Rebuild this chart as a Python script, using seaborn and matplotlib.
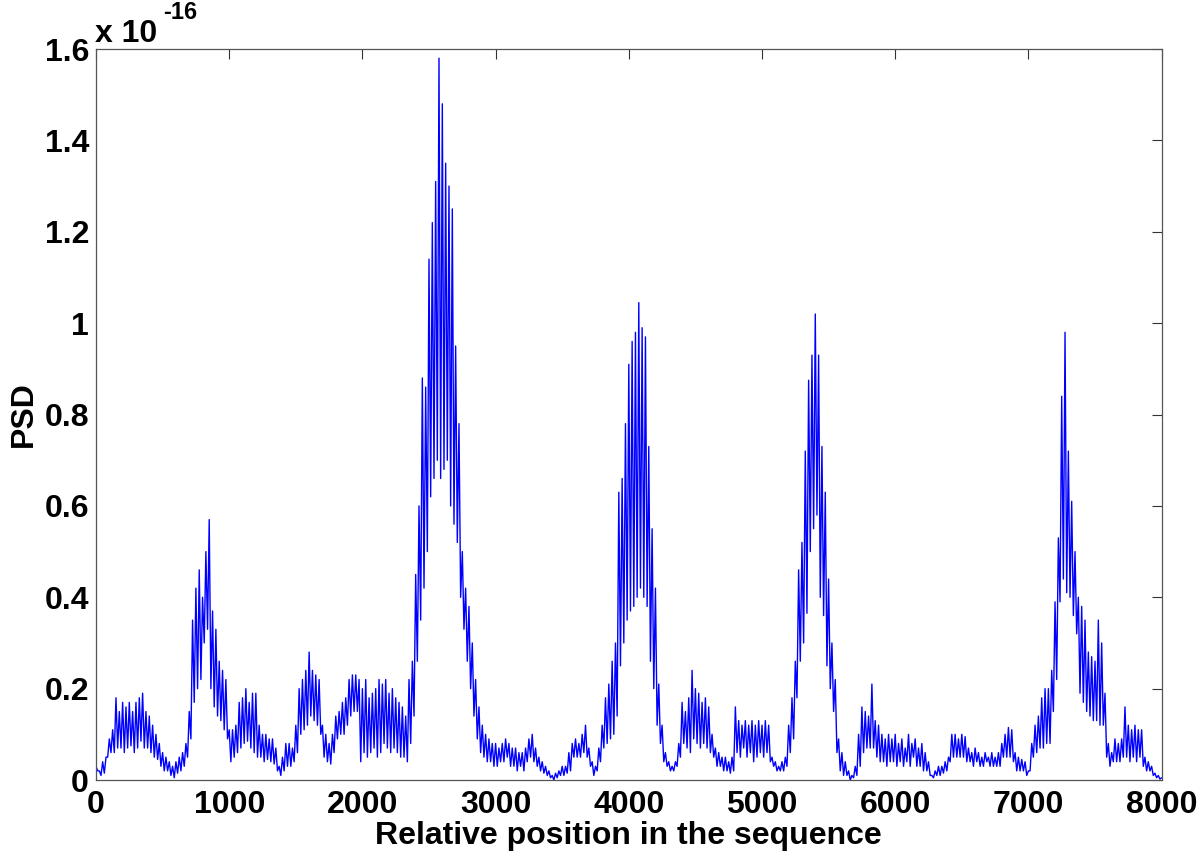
import numpy as np
import pandas as pd
import matplotlib
matplotlib.use("Agg")
import matplotlib.pyplot as plt
import seaborn as sns

# Upper (peak) samples of the PSD trace, every 25 positions from 0 to 8000 (units of 1e-16)
peak_pos = np.arange(0, 8001, 25)
peak_vals = [
    .03, .02, .04, .05, .09, .11, .18, .15,
    .17, .16, .17, .15, .17, .18, .19, .15,
    .14, .12, .10, .08, .06, .05, .04, .03,
    .04, .05, .06, .08, .15, .35, .42, .46,
    .40, .50, .57, .37, .33, .26, .24, .22,
    .11, .11, .12, .17, .18, .20, .17, .19,
    .19, .12, .10, .10, .09, .09, .07, .03,
    .05, .08, .08, .07, .12, .20, .22, .24,
    .28, .24, .23, .22, .12, .10, .08, .10,
    .14, .15, .17, .18, .22, .23, .23, .22,
    .20, .22, .18, .19, .20, .22, .21, .22,
    .19, .20, .18, .17, .16, .14, .22, .26,
    .45, .60, .88, .86, 1.14, 1.22, 1.31, 1.58,
    1.48, 1.35, 1.30, 1.25, .95, .78, .50, .42,
    .38, .30, .22, .16, .12, .10, .09, .08,
    .08, .07, .08, .09, .08, .07, .07, .06,
    .06, .07, .09, .10, .07, .05, .04, .03,
    .02, .01, .015, .02, .03, .03, .06, .08,
    .09, .08, .10, .12, .07, .04, .03, .07,
    .12, .18, .21, .26, .30, .63, .66, .78,
    .91, .96, .98, 1.045, .99, .97, .73, .55,
    .42, .21, .12, .06, .04, .03, .04, .08,
    .17, .15, .18, .24, .20, .19, .17, .18,
    .16, .10, .07, .06, .05, .05, .04, .05,
    .16, .13, .12, .13, .12, .13, .12, .13,
    .12, .13, .12, .05, .04, .03, .04, .05,
    .12, .18, .26, .46, .52, .72, .875, .93,
    1.02, .93, .73, .63, .44, .30, .22, .09,
    .06, .04, .02, .01, .03, .10, .16, .15,
    .14, .21, .13, .12, .10, .09, .10, .09,
    .10, .08, .09, .07, .10, .08, .09, .07,
    .08, .06, .04, .01, .02, .03, .03, .04,
    .05, .10, .10, .09, .10, .095, .07, .06,
    .07, .06, .05, .06, .05, .06, .05, .06,
    .08, .10, .115, .11, .06, .05, .045, .04,
    .02, .08, .12, .14, .18, .20, .20, .24,
    .39, .53, .84, .98, .72, .61, .50, .40,
    .38, .35, .28, .27, .26, .35, .30, .19,
    .08, .06, .09, .08, .09, .16, .12, .11,
    .12, .11, .11, .05, .04, .03, .015, .01,
    .005,
]

# Lower (trough) samples, at positions 12.5, 37.5, ..., 7987.5
trough_pos = np.arange(12.5, 8000, 25)
trough_vals = [
    .02, .01, .015, .05, .06, .06, .07, .07,
    .06, .07, .075, .06, .07, .085, .07, .07,
    .06, .05, .045, .03, .02, .02, .01, .005,
    .015, .02, .03, .05, .09, .17, .20, .22,
    .30, .33, .20, .16, .14, .13, .11, .09,
    .04, .05, .06, .07, .08, .085, .07, .06,
    .05, .05, .04, .045, .04, .035, .02, .01,
    .02, .03, .03, .04, .06, .10, .11, .12,
    .14, .13, .12, .10, .05, .04, .035, .06,
    .09, .10, .10, .12, .14, .15, .15, .04,
    .06, .05, .06, .07, .05, .06, .08, .07,
    .06, .07, .06, .05, .05, .04, .08, .14,
    .26, .35, .42, .50, .62, .66, .70, .66,
    .68, .70, .60, .56, .52, .40, .33, .26,
    .20, .14, .09, .06, .05, .04, .04, .03,
    .03, .04, .04, .05, .03, .03, .02, .03,
    .02, .04, .05, .04, .03, .02, .015, .01,
    .005, .0, .005, .01, .01, .015, .02, .05,
    .05, .05, .06, .05, .03, .01, .02, .04,
    .07, .08, .09, .10, .14, .25, .30, .35,
    .37, .38, .40, .42, .40, .38, .26, .20,
    .12, .08, .04, .03, .02, .02, .03, .05,
    .08, .07, .06, .09, .08, .07, .08, .07,
    .06, .05, .03, .03, .02, .02, .015, .02,
    .06, .05, .07, .05, .06, .04, .05, .06,
    .05, .06, .04, .03, .02, .02, .02, .03,
    .06, .09, .18, .26, .30, .365, .50, .55,
    .58, .40, .36, .25, .20, .15, .06, .02,
    .01, .01, .0, .005, .01, .03, .06, .07,
    .07, .07, .05, .04, .04, .03, .04, .04,
    .03, .04, .03, .04, .03, .05, .03, .03,
    .02, .02, .01, .005, .01, .01, .015, .02,
    .04, .05, .05, .05, .05, .04, .04, .03,
    .04, .03, .03, .04, .03, .03, .03, .03,
    .05, .05, .05, .04, .02, .02, .02, .01,
    .02, .05, .06, .07, .07, .08, .08, .15,
    .22, .39, .44, .41, .40, .36, .32, .19,
    .17, .15, .14, .13, .13, .12, .12, .05,
    .03, .04, .04, .04, .05, .05, .04, .05,
    .04, .05, .03, .02, .02, .01, .005, .002,
]

x_ticks = [0, 1000, 2000, 3000, 4000, 5000, 6000, 7000, 8000]
y_ticks = [0, 0.2, 0.4, 0.6, 0.8, 1.0, 1.2, 1.4, 1.6]
y_tick_labels = ["0", "0.2", "0.4", "0.6", "0.8", "1", "1.2", "1.4", "1.6"]

df = pd.DataFrame({
    "pos": np.concatenate([peak_pos, trough_pos]),
    "psd": np.concatenate([peak_vals, trough_vals]),
}).sort_values("pos")

sns.set_theme(style="white")
plt.rcParams["font.family"] = ["Liberation Sans", "DejaVu Sans"]
plt.rcParams["font.weight"] = "bold"
for key in ["text.color", "axes.labelcolor", "xtick.color", "ytick.color"]:
    plt.rcParams[key] = "black"

fig = plt.figure(figsize=(12, 8.6), dpi=100)
ax = fig.add_axes([0.08, 0.093, 0.888, 0.85])

sns.lineplot(data=df, x="pos", y="psd", ax=ax, color=(0, 0, 1),
             linewidth=1.0, estimator=None, sort=True)

ax.set_xlim(0, 8000)
ax.set_ylim(0, 1.6)
ax.set_xticks(x_ticks)
ax.set_xticklabels([str(t) for t in x_ticks])
ax.set_yticks(y_ticks)
ax.set_yticklabels(y_tick_labels)

ax.tick_params(axis="both", which="major", direction="in", length=7,
               width=0.8, color="#333333", labelcolor="black", labelsize=23,
               top=True, right=True)
ax.tick_params(axis="x", pad=7)
ax.tick_params(axis="y", pad=5)
for lab in ax.get_xticklabels() + ax.get_yticklabels():
    lab.set_fontweight("bold")

for sp in ax.spines.values():
    sp.set_color("#555555")
    sp.set_linewidth(0.9)

ax.set_xlabel("Relative position in the sequence", fontsize=23,
              fontweight="bold", labelpad=1, color="black")
ax.set_ylabel("PSD", fontsize=23, fontweight="bold", labelpad=4, color="black")

fig.text(95 / 1200, 1 - 42 / 860, "x 10", fontsize=23, fontweight="bold",
         ha="left", va="baseline", color="black")
fig.text(163 / 1200, 1 - 19 / 860, "-16", fontsize=17, fontweight="bold",
         ha="left", va="baseline", color="black")

fig.savefig("out.png", dpi=100)
